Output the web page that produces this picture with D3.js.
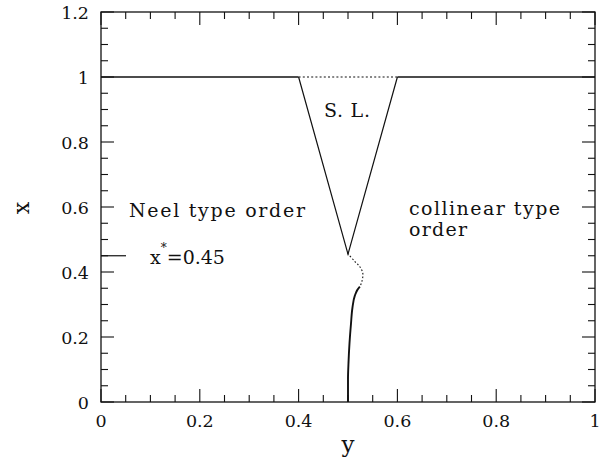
<!DOCTYPE html>
<html>
<head>
<meta charset="utf-8">
<script src="https://cdn.jsdelivr.net/npm/d3@7"></script>
<style>
  html, body { margin: 0; padding: 0; background: #fff; }
  svg { display: block; }
  text { font-family: "DejaVu Serif", "Liberation Serif", serif; fill: #111; }
</style>
</head>
<body>
<svg id="chart" width="608" height="470"></svg>
<script>
// ---- data (horizontal axis = y, vertical axis = x) ----
const xAxisTicks = [0, 0.2, 0.4, 0.6, 0.8, 1];
const xAxisTickLabels = ["0", "0.2", "0.4", "0.6", "0.8", "1"];
const yAxisTicks = [0, 0.2, 0.4, 0.6, 0.8, 1, 1.2];
const yAxisTickLabels = ["0", "0.2", "0.4", "0.6", "0.8", "1", "1.2"];
const minorStep = 0.05;

// phase boundary at x = 1
const boundaryLeftSolid = [[0, 1], [0.4, 1]];
const boundaryTopDotted = [[0.4, 1], [0.6, 1]];
const boundaryRightSolid = [[0.6, 1], [1, 1]];
// spin-liquid wedge
const wedge = [[0.4, 1], [0.5, 0.455], [0.6, 1]];
// dotted part of the lower boundary
const lowerDotted = [[0.499, 0.458], [0.514, 0.432], [0.524, 0.416], [0.530, 0.396],
                     [0.528, 0.370], [0.524, 0.355]];
// solid part of the lower boundary
const lowerSolid = [[0.524, 0.355], [0.519, 0.345], [0.514, 0.328], [0.509, 0.29],
                    [0.506, 0.24], [0.503, 0.18], [0.501, 0.12], [0.5, 0.07], [0.5, 0]];
const xStar = 0.45;

(function () {
  const svg = d3.select("#chart");
  const pL = 101, pR = 595, pT = 12, pB = 402;
  const sx = d3.scaleLinear().domain([0, 1]).range([pL, pR]);
  const sy = d3.scaleLinear().domain([0, 1.2]).range([pB, pT]);
  const majorLen = 13, minorLen = 7;
  const stroke = "#111";

  const g = svg.append("g");

  g.append("rect").attr("x", pL).attr("y", pT)
    .attr("width", pR - pL).attr("height", pB - pT)
    .attr("fill", "none").attr("stroke", stroke).attr("stroke-width", 1.3);

  const near = (a, b) => Math.abs(a - b) < 1e-6;
  const xMinor = d3.range(0, 1 + 1e-9, minorStep);
  const yMinor = d3.range(0, 1.2 + 1e-9, minorStep);

  xMinor.forEach(v => {
    const isMajor = xAxisTicks.some(t => near(t, v));
    const L = isMajor ? majorLen : minorLen;
    const px = sx(v);
    g.append("line").attr("x1", px).attr("x2", px).attr("y1", pB).attr("y2", pB - L)
      .attr("stroke", stroke).attr("stroke-width", 1.1);
    g.append("line").attr("x1", px).attr("x2", px).attr("y1", pT).attr("y2", pT + L)
      .attr("stroke", stroke).attr("stroke-width", 1.1);
  });
  yMinor.forEach(v => {
    const isMajor = yAxisTicks.some(t => near(t, v));
    const L = isMajor ? majorLen : minorLen;
    const py = sy(v);
    g.append("line").attr("x1", pL).attr("x2", pL + L).attr("y1", py).attr("y2", py)
      .attr("stroke", stroke).attr("stroke-width", 1.1);
    g.append("line").attr("x1", pR).attr("x2", pR - L).attr("y1", py).attr("y2", py)
      .attr("stroke", stroke).attr("stroke-width", 1.1);
  });

  xAxisTicks.forEach((t, i) => {
    g.append("text").attr("x", sx(t)).attr("y", 427)
      .attr("text-anchor", "middle").attr("font-size", 17.5).text(xAxisTickLabels[i]);
  });
  yAxisTicks.forEach((t, i) => {
    g.append("text").attr("x", 89).attr("y", sy(t) + 6.5)
      .attr("text-anchor", "end").attr("font-size", 17.5).text(yAxisTickLabels[i]);
  });

  g.append("text").attr("x", sx(0.5)).attr("y", 452)
    .attr("text-anchor", "middle").attr("font-size", 23).text("y");
  g.append("text").attr("transform", "translate(29,208) rotate(-90)")
    .attr("text-anchor", "middle").attr("font-size", 22).text("x");

  const line = d3.line().x(d => sx(d[0])).y(d => sy(d[1]));
  const curve = d3.line().x(d => sx(d[0])).y(d => sy(d[1])).curve(d3.curveCatmullRom.alpha(0.5));
  const curveV = d3.line().x(d => sx(d[0])).y(d => sy(d[1])).curve(d3.curveMonotoneY);

  [boundaryLeftSolid, boundaryRightSolid].forEach(seg => {
    g.append("path").attr("d", line(seg)).attr("fill", "none")
      .attr("stroke", stroke).attr("stroke-width", 1.3);
  });
  g.append("path").attr("d", line(boundaryTopDotted)).attr("fill", "none")
    .attr("stroke", stroke).attr("stroke-width", 1.1).attr("stroke-dasharray", "2,2.2");
  g.append("path").attr("d", line(wedge)).attr("fill", "none")
    .attr("stroke", stroke).attr("stroke-width", 1.2);
  g.append("path").attr("d", curve(lowerDotted)).attr("fill", "none")
    .attr("stroke", stroke).attr("stroke-width", 1.1).attr("stroke-dasharray", "1.6,2");
  g.append("path").attr("d", curveV(lowerSolid)).attr("fill", "none")
    .attr("stroke", stroke).attr("stroke-width", 1.9);

  g.append("line").attr("x1", pL).attr("x2", pL + 25)
    .attr("y1", sy(xStar)).attr("y2", sy(xStar))
    .attr("stroke", stroke).attr("stroke-width", 1.2);

  g.append("text").attr("x", 129).attr("y", 217).attr("font-size", 19)
    .attr("textLength", 176).attr("lengthAdjust", "spacing").text("Neel type order");
  g.append("text").attr("x", 409).attr("y", 215).attr("font-size", 19)
    .attr("textLength", 151).attr("lengthAdjust", "spacing").text("collinear type");
  g.append("text").attr("x", 409).attr("y", 236).attr("font-size", 19)
    .attr("textLength", 58).attr("lengthAdjust", "spacing").text("order");
  g.append("text").attr("x", 324).attr("y", 117).attr("font-size", 19)
    .attr("textLength", 46).attr("lengthAdjust", "spacing").text("S. L.");

  const xs = g.append("text").attr("x", 150).attr("y", 264).attr("font-size", 19);
  xs.append("tspan").text("x");
  xs.append("tspan").attr("dy", -12).attr("font-size", 12).text("*");
  xs.append("tspan").attr("dy", 12).text("=0.45");
})();
</script>
</body>
</html>
